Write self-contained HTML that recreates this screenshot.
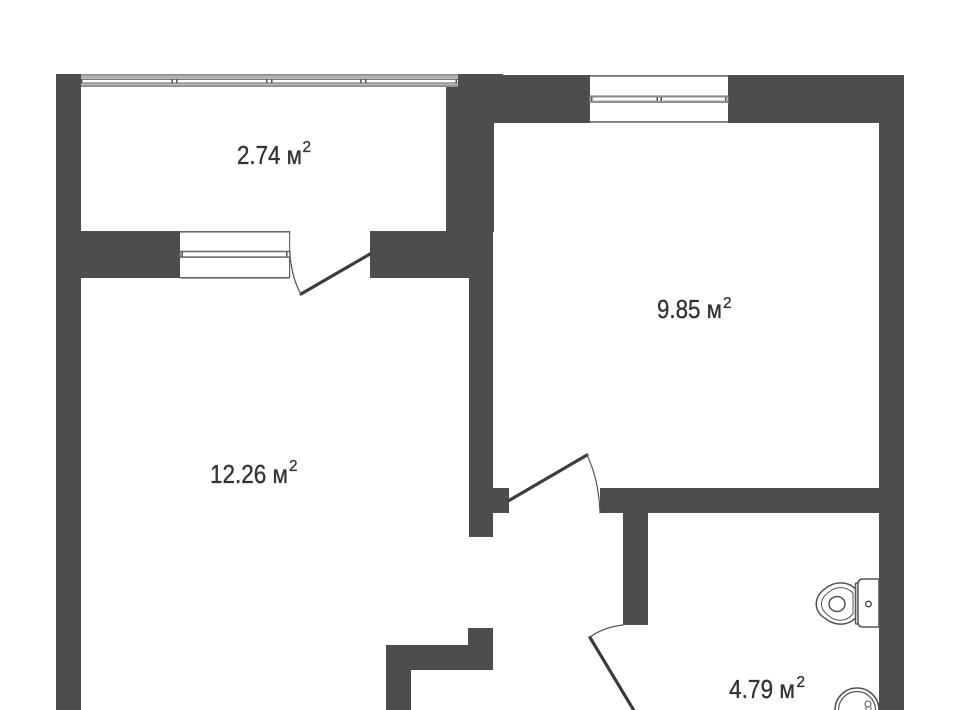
<!DOCTYPE html>
<html>
<head>
<meta charset="utf-8">
<style>
html,body{margin:0;padding:0;background:#fff;width:960px;height:710px;overflow:hidden}
svg{display:block}
text{font-family:"Liberation Sans Narrow","Liberation Sans",sans-serif;fill:#333;stroke:#333;stroke-width:0.35px}
</style>
</head>
<body>
<svg width="960" height="710" viewBox="0 0 960 710" xmlns="http://www.w3.org/2000/svg">
<rect width="960" height="710" fill="#fff"/>
<g style="filter:blur(0.35px)">
  <!-- walls -->
  <g fill="#4d4d4d">
    <rect x="56" y="74" width="25" height="636"/>
    <rect x="446" y="74" width="48" height="158"/>
    <rect x="446" y="74" width="57" height="3"/>
    <rect x="446" y="75" width="144" height="48"/>
    <rect x="728" y="75" width="176" height="48"/>
    <rect x="879" y="75" width="25" height="635"/>
    <rect x="81" y="231" width="99" height="47"/>
    <rect x="370" y="231" width="100" height="47"/>
    <rect x="469" y="231" width="24" height="306"/>
    <rect x="493" y="488" width="16" height="25"/>
    <rect x="600" y="488" width="279" height="25"/>
    <rect x="623" y="513" width="25" height="112"/>
    <rect x="386" y="645" width="107" height="25"/>
    <rect x="468" y="628" width="25" height="42"/>
    <rect x="386" y="645" width="25" height="65"/>
  </g>

  <!-- balcony window -->
  <rect x="81" y="74" width="377" height="13" fill="#b4b4b4"/>
  <rect x="81" y="74" width="377" height="1.5" fill="#8c8c8c"/>
  <rect x="81" y="85.5" width="377" height="1.5" fill="#8c8c8c"/>
  <rect x="81" y="79" width="377" height="1" fill="#7d7d7d"/>
  <rect x="81" y="80" width="377" height="2.4" fill="#fff"/>
  <rect x="81" y="82.4" width="377" height="1" fill="#7d7d7d"/>
  <g fill="#555">
    <rect x="81" y="79" width="1.5" height="4"/>
    <rect x="171.5" y="79" width="1.5" height="4"/>
    <rect x="176" y="79" width="1.5" height="4"/>
    <rect x="266" y="79" width="1.5" height="4"/>
    <rect x="271" y="79" width="1.5" height="4"/>
    <rect x="360" y="79" width="1.5" height="4"/>
    <rect x="365" y="79" width="1.5" height="4"/>
    <rect x="455.5" y="79" width="1.5" height="4"/>
  </g>

  <!-- top right window -->
  <rect x="590" y="75.5" width="138" height="47" fill="#fff"/>
  <rect x="590" y="75" width="138" height="1.8" fill="#777"/>
  <rect x="590" y="121" width="138" height="1.8" fill="#777"/>
  <rect x="590" y="96" width="138" height="6.4" fill="#fff" stroke="#8a8a8a" stroke-width="1.2"/>
  <rect x="590" y="96" width="138" height="1.5" fill="#8a8a8a"/>
  <rect x="590" y="100.5" width="138" height="1.5" fill="#999"/>
  <g fill="#555">
    <rect x="591" y="97" width="1.5" height="4"/>
    <rect x="656.5" y="97" width="1.5" height="4"/>
    <rect x="660.5" y="97" width="1.5" height="4"/>
    <rect x="725" y="97" width="1.5" height="4"/>
  </g>

  <!-- balcony door window -->
  <rect x="180" y="231" width="110" height="47" fill="#fff"/>
  <rect x="180" y="231" width="110" height="1.6" fill="#666"/>
  <rect x="180" y="277" width="110" height="1.6" fill="#666"/>
  <rect x="289" y="231" width="1.2" height="47" fill="#666"/>
  <rect x="180" y="251.5" width="110" height="5.6" fill="#fff" stroke="#666" stroke-width="1.5"/>
  <g fill="#555">
    <rect x="181.5" y="252" width="1.5" height="4.5"/>
    <rect x="286" y="252" width="1.5" height="4.5"/>
  </g>

  <!-- doors -->
  <g fill="none" stroke-linecap="round">
    <path d="M370 254 L301 294" stroke="#3c3c3c" stroke-width="3.2"/>
    <path d="M290 257 Q293 281 301 294" stroke="#555" stroke-width="1.2"/>
    <path d="M509 500.500 L587 455" stroke="#3c3c3c" stroke-width="3.2"/>
    <path d="M587 455 Q599 480 600 513" stroke="#555" stroke-width="1.2"/>
    <path d="M590 637.500 L636 714" stroke="#3c3c3c" stroke-width="3.2"/>
    <path d="M590 637 Q604 627 623 625" stroke="#555" stroke-width="1.2"/>
  </g>

  <!-- toilet -->
  <g fill="#fff" stroke="#555" stroke-width="1.5">
    <rect x="855.500" y="583" width="3" height="41" rx="1"/>
    <path d="M879 579 L863 579 Q858 579 858 584 L858 622 Q858 627 863 627 L879 627 Z"/>
    <circle cx="868.500" cy="604" r="2.800"/>
    <path d="M855.500 589 C848 581 835 581 826 588 C813 597 813 611 826 619 C835 626 848 626 855.500 618 Z"/>
    <path d="M853 593 C846 586 836 586 829 592 C819 599 819 609 829 616 C836 622 846 622 853 614 Z" stroke-width="1"/>
    <ellipse cx="837" cy="604" rx="8" ry="7.500" stroke-width="1.500"/>
  </g>

  <!-- sink -->
  <g fill="none" stroke="#555">
    <circle cx="857" cy="710" r="22" stroke-width="1.600" fill="#fff"/>
    <circle cx="857" cy="710" r="18.500" stroke-width="1.200"/>
    <circle cx="868" cy="704" r="3" stroke-width="1" fill="#fff"/>
    <path d="M866 707 L866 710 M871 707 L871 710" stroke-width="1"/>
  </g>
  <rect x="879" y="685" width="25" height="25" fill="#4d4d4d"/>
</g>

<!-- labels -->
<text x="237" y="164" font-size="26" textLength="65" lengthAdjust="spacingAndGlyphs">2.74 м</text>
<text x="302.500" y="152" font-size="16" textLength="8.500" lengthAdjust="spacingAndGlyphs">2</text>
<text x="657" y="318" font-size="26" textLength="65" lengthAdjust="spacingAndGlyphs">9.85 м</text>
<text x="723" y="308" font-size="16" textLength="8.500" lengthAdjust="spacingAndGlyphs">2</text>
<text x="210" y="483" font-size="26" textLength="78" lengthAdjust="spacingAndGlyphs">12.26 м</text>
<text x="289" y="471" font-size="16" textLength="8.500" lengthAdjust="spacingAndGlyphs">2</text>
<text x="729" y="698" font-size="26" textLength="66" lengthAdjust="spacingAndGlyphs">4.79 м</text>
<text x="796.500" y="687" font-size="16" textLength="8.500" lengthAdjust="spacingAndGlyphs">2</text>
</svg>
</body>
</html>
